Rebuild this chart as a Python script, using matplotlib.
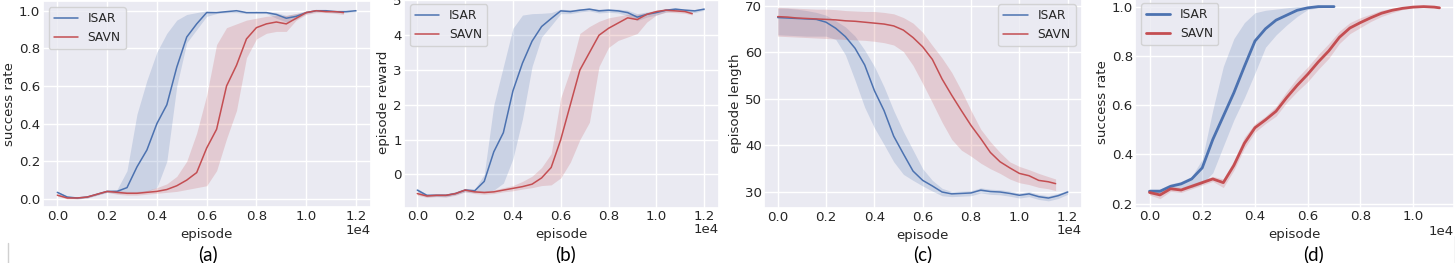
import matplotlib
matplotlib.use("Agg")
import matplotlib.pyplot as plt
import seaborn as sns
from matplotlib.lines import Line2D

# ---------------- data ----------------
ep_12000 = [0, 400, 800, 1200, 1600, 2000, 2400, 2800, 3200, 3600, 4000, 4400, 4800, 5200, 5600,
            6000, 6400, 6800, 7200, 7600, 8000, 8400, 8800, 9200, 9600, 10000, 10400, 10800,
            11200, 11600, 12000]
ep_11500 = [0, 400, 800, 1200, 1600, 2000, 2400, 2800, 3200, 3600, 4000, 4400, 4800, 5200, 5600,
            6000, 6400, 6800, 7200, 7600, 8000, 8400, 8800, 9200, 9600, 10000, 10400, 10800,
            11200, 11500]
ep_7000 = [0, 400, 800, 1200, 1600, 2000, 2400, 2800, 3200, 3600, 4000, 4400, 4800, 5200, 5600,
           6000, 6400, 6800, 7000]
ep_11000 = [0, 400, 800, 1200, 1600, 2000, 2400, 2800, 3200, 3600, 4000, 4400, 4800, 5200, 5600,
            6000, 6400, 6800, 7200, 7600, 8000, 8400, 8800, 9200, 9600, 10000, 10400, 10800, 11000]

# (a) success rate
a_isar = [0.035, 0.01, 0.005, 0.01, 0.025, 0.04, 0.04, 0.06, 0.17, 0.26, 0.40, 0.50, 0.70, 0.86, 0.93,
          0.99, 0.99, 0.995, 1.0, 0.99, 0.99, 0.99, 0.98, 0.96, 0.97, 0.99, 1.0, 1.0, 0.995, 0.995, 1.0]
a_isar_hi = [0.04, 0.015, 0.01, 0.015, 0.03, 0.045, 0.05, 0.15, 0.45, 0.63, 0.78, 0.88, 0.95, 0.98, 0.99,
             1.0, 0.995, 1.0, 1.0, 0.995, 0.995, 0.995, 0.99, 0.975, 0.985, 0.995, 1.0, 1.0, 1.0, 1.0, 1.0]
a_isar_lo = [0.03, 0.005, 0.0, 0.005, 0.02, 0.035, 0.03, 0.03, 0.03, 0.04, 0.06, 0.2, 0.6, 0.83, 0.9,
             0.97, 0.985, 0.99, 0.99, 0.985, 0.985, 0.985, 0.96, 0.94, 0.955, 0.985, 0.995, 0.995, 0.99, 0.99, 0.995]
a_savn = [0.02, 0.005, 0.005, 0.01, 0.025, 0.04, 0.035, 0.03, 0.03, 0.035, 0.04, 0.05, 0.07, 0.10, 0.14,
          0.27, 0.37, 0.60, 0.71, 0.85, 0.91, 0.93, 0.94, 0.93, 0.96, 0.99, 1.0, 0.995, 0.995, 0.99]
a_savn_hi = [0.025, 0.01, 0.01, 0.015, 0.03, 0.045, 0.045, 0.04, 0.04, 0.045, 0.06, 0.08, 0.12, 0.2, 0.35,
             0.55, 0.82, 0.91, 0.93, 0.95, 0.96, 0.97, 0.975, 0.975, 0.985, 1.0, 1.0, 1.0, 1.0, 0.995]
a_savn_lo = [0.015, 0.0, 0.0, 0.005, 0.02, 0.035, 0.025, 0.02, 0.02, 0.025, 0.03, 0.035, 0.04, 0.05, 0.06,
             0.07, 0.15, 0.32, 0.47, 0.75, 0.85, 0.88, 0.89, 0.89, 0.95, 0.98, 0.99, 0.99, 0.985, 0.98]

# (b) episode reward
b_isar = [-0.45, -0.6, -0.6, -0.6, -0.55, -0.45, -0.47, -0.2, 0.65, 1.2, 2.4, 3.2, 3.83, 4.25, 4.48,
          4.7, 4.68, 4.72, 4.75, 4.7, 4.72, 4.7, 4.65, 4.52, 4.6, 4.65, 4.72, 4.75, 4.72, 4.7, 4.75]
b_isar_hi = [-0.4, -0.57, -0.55, -0.56, -0.5, -0.4, -0.42, 0.0, 2.0, 3.1, 4.2, 4.58, 4.62, 4.63, 4.65,
             4.75, 4.73, 4.76, 4.78, 4.75, 4.76, 4.75, 4.72, 4.62, 4.67, 4.71, 4.76, 4.78, 4.76, 4.74, 4.78]
b_isar_lo = [-0.5, -0.64, -0.63, -0.64, -0.58, -0.5, -0.52, -0.5, -0.45, -0.25, 0.45, 1.6, 3.1, 3.95, 4.28,
             4.62, 4.62, 4.67, 4.7, 4.64, 4.66, 4.64, 4.56, 4.42, 4.52, 4.58, 4.67, 4.71, 4.68, 4.65, 4.72]
b_savn = [-0.55, -0.62, -0.6, -0.6, -0.55, -0.45, -0.5, -0.52, -0.5, -0.45, -0.4, -0.35, -0.28, -0.1, 0.2,
          1.0, 2.0, 3.0, 3.5, 4.0, 4.2, 4.35, 4.5, 4.45, 4.6, 4.68, 4.72, 4.7, 4.68, 4.62]
b_savn_hi = [-0.5, -0.58, -0.56, -0.56, -0.5, -0.4, -0.45, -0.47, -0.45, -0.38, -0.32, -0.2, -0.05, 0.2, 0.6,
             2.2, 3.0, 4.05, 4.25, 4.4, 4.5, 4.55, 4.6, 4.6, 4.65, 4.72, 4.76, 4.75, 4.72, 4.66]
b_savn_lo = [-0.6, -0.66, -0.64, -0.65, -0.6, -0.5, -0.55, -0.57, -0.55, -0.5, -0.47, -0.42, -0.38, -0.32, -0.3,
             -0.1, 0.35, 1.0, 1.5, 3.1, 3.65, 3.85, 3.95, 4.05, 4.38, 4.58, 4.66, 4.65, 4.63, 4.58]

# (c) episode length
c_isar = [67.5, 67.4, 67.3, 67.2, 67.1, 66.5, 65.2, 63.4, 60.9, 57.3, 51.8, 47.5, 42.0, 38.2, 34.5,
          32.5, 31.3, 30.0, 29.6, 29.7, 29.8, 30.4, 30.1, 30.0, 29.7, 29.3, 29.6, 29.0, 28.7, 29.2, 30.0]
c_isar_hi = [69.5, 69.5, 69.3, 69.0, 68.6, 68.0, 66.8, 65.5, 63.5, 60.5, 57.0, 52.6, 47.5, 43.0, 39.0,
             35.0, 32.5, 30.8, 30.1, 30.2, 30.3, 30.9, 30.6, 30.5, 30.2, 29.8, 30.1, 29.5, 29.2, 29.7, 30.4]
c_isar_lo = [63.8, 63.7, 63.6, 63.5, 63.5, 63.5, 62.8, 59.5, 54.0, 48.2, 43.8, 40.2, 36.5, 33.8, 32.5,
             31.3, 30.2, 29.2, 29.0, 29.1, 29.2, 29.8, 29.5, 29.4, 29.1, 28.7, 29.0, 28.4, 28.1, 28.6, 29.5]
c_savn = [67.7, 67.6, 67.4, 67.3, 67.2, 67.1, 67.0, 66.8, 66.7, 66.5, 66.3, 66.1, 65.7, 64.8, 63.2,
          61.2, 58.5, 54.3, 50.8, 47.5, 44.3, 41.5, 38.5, 36.5, 35.2, 34.0, 33.5, 32.5, 32.2, 31.8]
c_savn_hi = [69.7, 69.6, 69.5, 69.4, 69.3, 69.3, 69.2, 69.0, 68.9, 68.8, 68.8, 68.6, 68.3, 67.5, 66.3,
             64.3, 61.5, 58.8, 55.7, 51.8, 47.5, 43.5, 40.8, 38.5, 36.5, 35.5, 34.8, 34.0, 33.3, 32.8]
c_savn_lo = [63.5, 63.4, 63.3, 63.2, 63.1, 63.0, 62.9, 62.8, 62.7, 62.6, 62.4, 62.1, 61.6, 60.2, 57.2,
             53.3, 49.2, 45.0, 41.3, 39.0, 37.7, 36.2, 35.0, 34.0, 32.8, 32.0, 31.6, 31.0, 30.7, 30.3]

# (d) success rate
d_isar = [0.25, 0.25, 0.27, 0.28, 0.30, 0.345, 0.46, 0.555, 0.65, 0.757, 0.86, 0.91, 0.945, 0.965, 0.985,
          0.995, 1.0, 1.0, 1.0]
d_isar_hi = [0.26, 0.26, 0.28, 0.29, 0.31, 0.38, 0.58, 0.757, 0.87, 0.935, 0.975, 0.985, 0.99, 0.995, 1.0,
             1.0, 1.0, 1.0, 1.0]
d_isar_lo = [0.24, 0.24, 0.26, 0.265, 0.265, 0.28, 0.325, 0.433, 0.54, 0.63, 0.73, 0.835, 0.885, 0.925, 0.96,
             0.988, 0.995, 0.998, 0.998]
d_savn = [0.245, 0.235, 0.26, 0.255, 0.27, 0.285, 0.3, 0.285, 0.355, 0.445, 0.508, 0.54, 0.575, 0.63, 0.68,
          0.725, 0.775, 0.82, 0.875, 0.913, 0.935, 0.955, 0.973, 0.985, 0.993, 0.998, 1.0, 0.998, 0.995]
d_savn_hi = [0.255, 0.25, 0.27, 0.265, 0.28, 0.295, 0.31, 0.3, 0.375, 0.47, 0.525, 0.555, 0.595, 0.655, 0.71,
             0.755, 0.805, 0.85, 0.9, 0.935, 0.955, 0.97, 0.985, 0.993, 0.998, 1.0, 1.0, 1.0, 0.998]
d_savn_lo = [0.235, 0.22, 0.25, 0.245, 0.26, 0.275, 0.29, 0.265, 0.335, 0.425, 0.49, 0.525, 0.555, 0.61, 0.655,
             0.695, 0.745, 0.79, 0.85, 0.89, 0.915, 0.94, 0.96, 0.975, 0.988, 0.995, 0.997, 0.995, 0.992]

series_names = ["ISAR", "SAVN"]
panel_letters = ["(a)", "(b)", "(c)", "(d)"]
y_labels = ["success rate", "episode reward", "episode length", "success rate"]
x_label = "episode"
x_offset_label = "1e4"

# ---------------- style ----------------
sns.set_theme(style="darkgrid")
plt.rcParams["font.family"] = ["DejaVu Sans"]
FS = 9.6
plt.rcParams["xtick.labelsize"] = FS
plt.rcParams["ytick.labelsize"] = FS
plt.rcParams["axes.labelsize"] = FS
plt.rcParams["legend.fontsize"] = 8.8
plt.rcParams["xtick.major.size"] = 0
plt.rcParams["ytick.major.size"] = 0
plt.rcParams["xtick.major.pad"] = 1.6
plt.rcParams["ytick.major.pad"] = 1.6

BLUE = "#4c72b0"
RED = "#c44e52"

W, H = 1455, 263
fig = plt.figure(figsize=(W / 100, H / 100), dpi=100)


def add_axes_px(l, r, t, b):
    return fig.add_axes([l / W, 1 - b / H, (r - l) / W, (b - t) / H])


panels = [
    dict(box=(42.5, 371, 1.3, 207.4), xlim=(-595, 12604), ylim=(-0.045, 1.05),
         yt=[0.0, 0.2, 0.4, 0.6, 0.8, 1.0], xt=[0, 2000, 4000, 6000, 8000, 10000, 12000],
         s1=(ep_12000, a_isar, a_isar_lo, a_isar_hi), s2=(ep_11500, a_savn, a_savn_lo, a_savn_hi),
         loc="upper left", lw=1.1, off_y=230),
    dict(box=(404, 719, -2, 207.5), xlim=(-556, 12620), ylim=(-0.95, 5.07),
         yt=[0, 1, 2, 3, 4, 5], xt=[0, 2000, 4000, 6000, 8000, 10000, 12000],
         s1=(ep_12000, b_isar, b_isar_lo, b_isar_hi), s2=(ep_11500, b_savn, b_savn_lo, b_savn_hi),
         loc="upper left", lw=1.1, off_y=229.5),
    dict(box=(764, 1081.7, -2, 208.3), xlim=(-567, 12579), ylim=(26.5, 71.7),
         yt=[30, 40, 50, 60, 70], xt=[0, 2000, 4000, 6000, 8000, 10000, 12000],
         s1=(ep_12000, c_isar, c_isar_lo, c_isar_hi), s2=(ep_11500, c_savn, c_savn_lo, c_savn_hi),
         loc="upper right", lw=1.1, off_y=231),
    dict(box=(1135, 1454, -3, 207.5), xlim=(-550, 11550), ylim=(0.184, 1.039),
         yt=[0.2, 0.4, 0.6, 0.8, 1.0], xt=[0, 2000, 4000, 6000, 8000, 10000],
         s1=(ep_7000, d_isar, d_isar_lo, d_isar_hi), s2=(ep_11000, d_savn, d_savn_lo, d_savn_hi),
         loc="upper left", lw=2.0, off_y=231.5),
]
letter_x = [208, 566, 923, 1314]

for i, p in enumerate(panels):
    l, r, t, b = p["box"]
    ax = add_axes_px(l, r, t, b)
    for (ep, m, lo, hi), col, name in zip([p["s1"], p["s2"]], [BLUE, RED], series_names):
        ax.fill_between(ep, lo, hi, color=col, alpha=0.2, lw=0)
        ax.plot(ep, m, color=col, lw=p["lw"], label=name)
    ax.set_xlim(*p["xlim"])
    ax.set_ylim(*p["ylim"])
    ax.set_xticks(p["xt"])
    ax.set_yticks(p["yt"])
    ax.ticklabel_format(axis="x", style="sci", scilimits=(0, 0))
    ax.xaxis.get_offset_text().set_visible(False)
    ax.text(1.0, (b - p["off_y"]) / (b - t), x_offset_label, transform=ax.transAxes,
            ha="right", va="center", fontsize=FS, color=".15")
    ax.tick_params(axis="both", colors=".15")
    ax.set_xlabel(x_label, labelpad=4)
    ax.set_ylabel(y_labels[i], labelpad=2)
    ax.legend(loc=p["loc"])
    fig.text(letter_x[i] / W, 1 - 254 / H, panel_letters[i], ha="center", va="center",
             fontsize=13.5, family=["Lato", "DejaVu Sans"], color="black")

fig.add_artist(Line2D([8.3 / W, 8.3 / W], [0, 1 - 243 / H], color="#d0d0d0", lw=1))
fig.add_artist(Line2D([1454.5 / W, 1454.5 / W], [0, 1 - 236 / H], color="#d0d0d0", lw=1))

fig.savefig("out.png", dpi=100, facecolor="white")
